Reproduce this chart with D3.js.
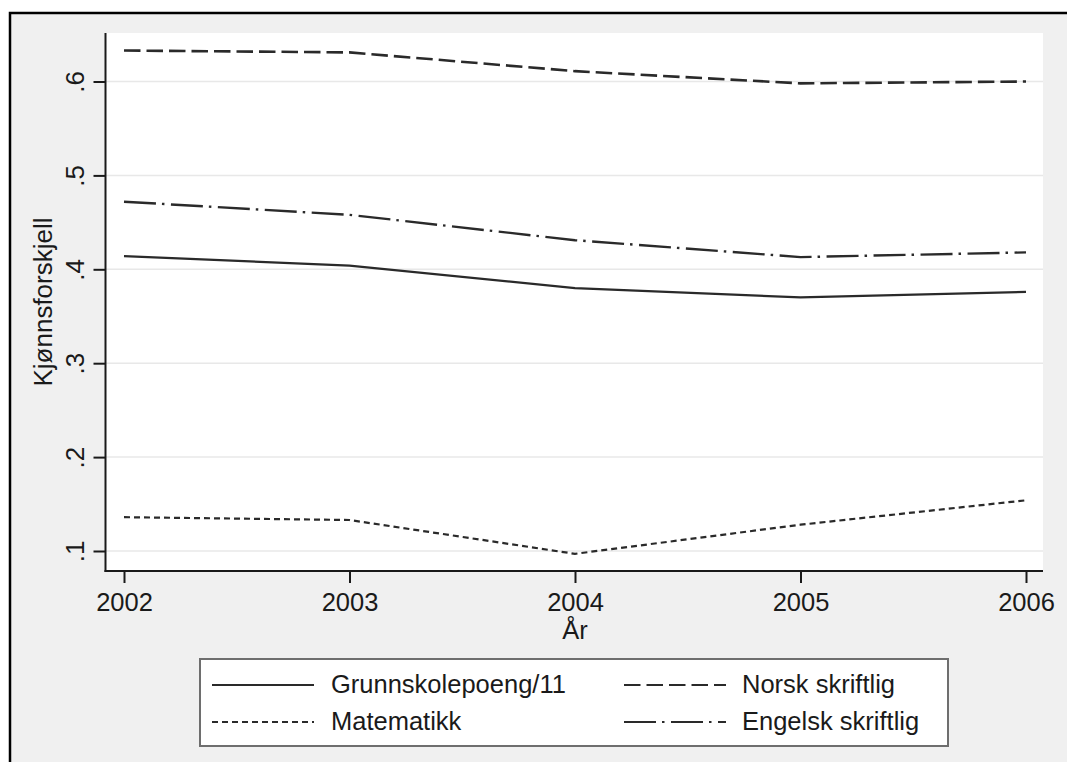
<!DOCTYPE html>
<html>
<head>
<meta charset="utf-8">
<script src="https://cdn.jsdelivr.net/npm/d3@7/dist/d3.min.js"></script>
<style>
  html, body { margin: 0; padding: 0; background: #ffffff; overflow: hidden; }
  svg { display: block; overflow: hidden; }
  text { font-family: "Liberation Sans", Arial, Helvetica, sans-serif; fill: #1a1a1a; }
</style>
</head>
<body>
<svg id="chart" width="1067" height="762" viewBox="0 0 1067 762"></svg>
<script>
// ---- data ----
const years = [2002, 2003, 2004, 2005, 2006];
const grunnskole = [0.414, 0.404, 0.380, 0.370, 0.376];
const norsk = [0.633, 0.631, 0.611, 0.598, 0.600];
const matematikk = [0.136, 0.133, 0.097, 0.128, 0.154];
const engelsk = [0.472, 0.458, 0.431, 0.413, 0.418];
const yTicks = [0.1, 0.2, 0.3, 0.4, 0.5, 0.6];
const yTickLabels = [".1", ".2", ".3", ".4", ".5", ".6"];
const seriesNames = ["Grunnskolepoeng/11", "Norsk skriftlig", "Matematikk", "Engelsk skriftlig"];
const xTitle = "År";
const yTitle = "Kjønnsforskjell";

// ---- layout ----
const svg = d3.select("#chart");
const plot = { left: 105.5, right: 1043, top: 33, bottom: 571 };

svg.append("rect")
  .attr("x", 10).attr("y", 13).attr("width", 3000).attr("height", 3000)
  .attr("fill", "#f0f0f0").attr("stroke", "#000").attr("stroke-width", 2.5);

svg.append("rect")
  .attr("x", plot.left).attr("y", plot.top)
  .attr("width", plot.right - plot.left).attr("height", plot.bottom - plot.top)
  .attr("fill", "#ffffff");

const x = d3.scaleLinear().domain([2002, 2006]).range([124, 1026]);
const y = d3.scaleLinear().domain([0.1, 0.6]).range([551, 81.5]);

// gridlines
svg.append("g").selectAll("line").data(yTicks).join("line")
  .attr("x1", plot.left).attr("x2", plot.right)
  .attr("y1", d => y(d)).attr("y2", d => y(d))
  .attr("stroke", "#e8e8e8").attr("stroke-width", 1.5);

// y axis
const yAxis = d3.axisLeft(y).tickValues(yTicks)
  .tickFormat((d, i) => yTickLabels[i]).tickSize(12).tickSizeOuter(0);
const gy = svg.append("g").attr("transform", `translate(${plot.left},0)`).call(yAxis);
gy.select(".domain").remove();
gy.selectAll(".tick line").attr("stroke", "#1a1a1a").attr("stroke-width", 2);
gy.selectAll(".tick text")
  .attr("x", 0).attr("dy", null)
  .attr("transform", "translate(-22,0) rotate(-90)")
  .attr("text-anchor", "middle")
  .style("font-size", "26px");

// x axis
const xAxis = d3.axisBottom(x).tickValues(years).tickFormat(d3.format("d"))
  .tickSize(12).tickSizeOuter(0);
const gx = svg.append("g").attr("transform", `translate(0,${plot.bottom})`).call(xAxis);
gx.select(".domain").remove();
gx.selectAll(".tick line").attr("stroke", "#1a1a1a").attr("stroke-width", 2);
gx.selectAll(".tick text").attr("y", 40).attr("dy", null).style("font-size", "25.5px");

// axis lines
svg.append("line").attr("x1", plot.left).attr("x2", plot.left)
  .attr("y1", plot.top).attr("y2", plot.bottom + 1)
  .attr("stroke", "#1a1a1a").attr("stroke-width", 2);
svg.append("line").attr("x1", plot.left - 1).attr("x2", plot.right)
  .attr("y1", plot.bottom).attr("y2", plot.bottom)
  .attr("stroke", "#1a1a1a").attr("stroke-width", 2);

// titles
svg.append("text").attr("x", 575).attr("y", 639).attr("text-anchor", "middle")
  .style("font-size", "25.5px").text(xTitle);
svg.append("text").attr("transform", `translate(52,302) rotate(-90)`)
  .attr("text-anchor", "middle").style("font-size", "26px").text(yTitle);

// series
const styles = [
  { data: grunnskole, dash: null, w: 2.2 },
  { data: norsk, dash: "16.5,6", w: 2.6 },
  { data: matematikk, dash: "6,4", w: 2.2 },
  { data: engelsk, dash: "32,6,2.5,6.5", w: 2.4 }
];
const line = d3.line().x((d, i) => x(years[i])).y(d => y(d));
styles.forEach(s => {
  svg.append("path").datum(s.data)
    .attr("d", line).attr("fill", "none")
    .attr("stroke", "#2a2a2a").attr("stroke-width", s.w)
    .attr("stroke-dasharray", s.dash);
});

// legend
svg.append("rect").attr("x", 200).attr("y", 659).attr("width", 748).attr("height", 87)
  .attr("fill", "#ffffff").attr("stroke", "#6e6e6e").attr("stroke-width", 2);
const legPos = [
  { sx: 212, tx: 331, by: 693 },
  { sx: 624, tx: 742, by: 693 },
  { sx: 212, tx: 331, by: 730 },
  { sx: 624, tx: 742, by: 730 }
];
styles.forEach((s, i) => {
  const p = legPos[i];
  svg.append("line").attr("x1", p.sx).attr("x2", p.sx + 102)
    .attr("y1", p.by - 8).attr("y2", p.by - 8)
    .attr("stroke", "#2a2a2a").attr("stroke-width", 2)
    .attr("stroke-dasharray", s.dash);
  svg.append("text").attr("x", p.tx).attr("y", p.by)
    .style("font-size", "25.5px").text(seriesNames[i]);
});
</script>
</body>
</html>
